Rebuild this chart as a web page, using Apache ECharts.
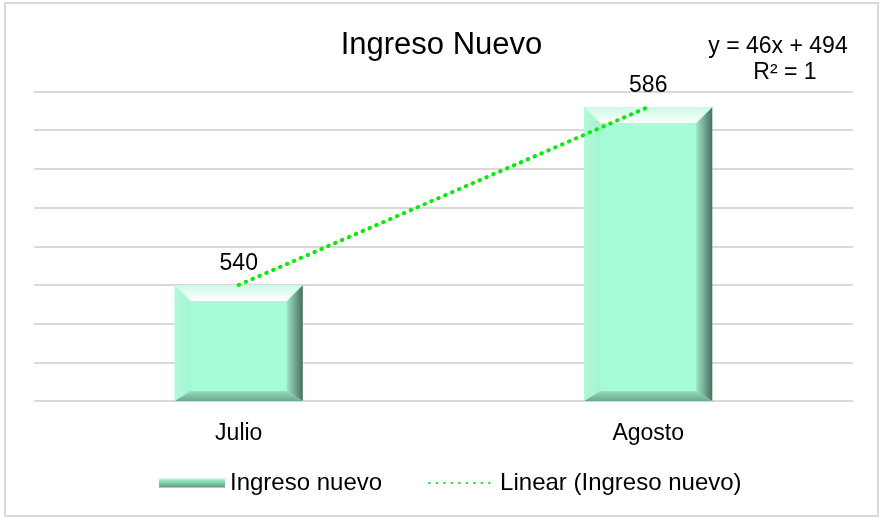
<!DOCTYPE html>
<html>
<head>
<meta charset="utf-8">
<script src="https://cdn.jsdelivr.net/npm/echarts@6/dist/echarts.min.js"></script>
<style>
  html, body { margin: 0; padding: 0; background: #fff; }
  #chart { width: 883px; height: 518px; }
</style>
</head>
<body>
<div id="chart"></div>
<script>
// chart data
const categories = ['Julio', 'Agosto']
const ingresoNuevo = [540, 586]
// linear trendline y = 46x + 494, evaluated at x = 1, 2
const trendValues = [540, 586]
const equationLines = ['y = 46x + 494', 'R² = 1']
const yMin = 510
const yMax = 590
const yStep = 10

const FONT = '"Liberation Sans", Arial, sans-serif'
const BAR_W = 128

function grad (x, y, x2, y2, c1, c2) {
  return new echarts.graphic.LinearGradient(x, y, x2, y2, [
    { offset: 0, color: c1 },
    { offset: 1, color: c2 }
  ])
}

// draws the bevelled edges on top of each bar
function renderBevel (params, api) {
  const top = api.coord([api.value(0), api.value(1)])
  const base = api.coord([api.value(0), yMin])
  const x0 = top[0] - BAR_W / 2
  const x1 = top[0] + BAR_W / 2
  const y0 = top[1]
  const y1 = base[1]
  const b = 16
  const bb = 10
  return {
    type: 'group',
    children: [
      {
        type: 'polygon',
        shape: { points: [[x0, y0], [x0 + b, y0 + b], [x0 + b, y1 - bb], [x0, y1]] },
        style: { fill: grad(0, 0, 1, 0, '#b4f6da', '#a2f6d2') }
      },
      {
        type: 'polygon',
        shape: { points: [[x1, y0], [x1, y1], [x1 - b, y1 - bb], [x1 - b, y0 + b]] },
        style: { fill: grad(0, 0, 1, 0, '#9ce6c6', '#4b6d60') }
      },
      {
        type: 'polygon',
        shape: { points: [[x0, y1], [x0 + b, y1 - bb], [x1 - b, y1 - bb], [x1, y1]] },
        style: { fill: grad(0, 0, 0, 1, '#95dcbc', '#6aa88e') }
      },
      {
        type: 'polygon',
        shape: { points: [[x0, y0], [x1, y0], [x1 - b, y0 + b], [x0 + b, y0 + b]] },
        style: { fill: grad(0, 0, 0, 1, '#c8fbe6', '#ffffff') }
      }
    ]
  }
}

const chart = echarts.init(document.getElementById('chart'))

const option = {
  backgroundColor: '#ffffff',
  animation: false,
  textStyle: { fontFamily: FONT },
  title: {
    text: 'Ingreso Nuevo',
    left: 'center',
    top: 25,
    textStyle: { fontFamily: FONT, fontSize: 31, fontWeight: 'normal', color: '#000' }
  },
  legend: {
    left: 154,
    top: 466,
    itemWidth: 66,
    itemHeight: 9,
    itemGap: 46,
    textStyle: { fontFamily: FONT, fontSize: 24, color: '#000' },
    data: [
      {
        name: 'Ingreso nuevo',
        icon: 'rect',
        itemStyle: { color: grad(0, 0, 0, 1, '#a6fcd6', '#5f9a84') }
      },
      {
        name: 'Linear (Ingreso nuevo)',
        itemStyle: { color: 'rgba(0,0,0,0)', borderWidth: 0 }
      }
    ]
  },
  grid: {
    left: 34,
    right: 30,
    top: 91.5,
    bottom: 117
  },
  xAxis: {
    type: 'category',
    data: categories,
    axisLine: { show: false },
    axisTick: { show: false },
    axisLabel: { fontFamily: FONT, fontSize: 23, color: '#000', margin: 21 }
  },
  yAxis: {
    type: 'value',
    min: yMin,
    max: yMax,
    interval: yStep,
    axisLine: { show: false },
    axisTick: { show: false },
    axisLabel: { show: false },
    splitLine: { lineStyle: { color: '#d9d9d9', width: 2 } }
  },
  series: [
    {
      name: 'Ingreso nuevo',
      type: 'bar',
      data: ingresoNuevo,
      barWidth: BAR_W,
      itemStyle: { color: '#a6fcd6' },
      label: {
        show: true,
        position: 'top',
        distance: 10,
        fontFamily: FONT,
        fontSize: 23,
        color: '#000'
      },
      z: 2
    },
    {
      type: 'custom',
      renderItem: renderBevel,
      data: categories.map((c, i) => [i, ingresoNuevo[i]]),
      silent: true,
      z: 3
    },
    {
      name: 'Linear (Ingreso nuevo)',
      type: 'line',
      data: trendValues,
      symbol: 'none',
      lineStyle: { color: '#00ee00', width: 4, type: [0.5, 7], cap: 'round' },
      itemStyle: { color: '#00ee00' },
      z: 4
    }
  ],
  graphic: [
    {
      type: 'rect',
      shape: { x: 5, y: 3, width: 873, height: 513 },
      style: { fill: 'none', stroke: '#d9d9d9', lineWidth: 2 },
      silent: true
    },
    {
      type: 'text',
      x: 778,
      y: 47,
      style: {
        text: equationLines[0],
        fontFamily: FONT,
        fontSize: 23,
        fill: '#000',
        align: 'center',
        verticalAlign: 'middle'
      }
    },
    {
      type: 'text',
      x: 785,
      y: 73,
      style: {
        text: equationLines[1],
        fontFamily: FONT,
        fontSize: 23,
        fill: '#000',
        align: 'center',
        verticalAlign: 'middle'
      }
    }
  ]
}

chart.setOption(option)
</script>
</body>
</html>
